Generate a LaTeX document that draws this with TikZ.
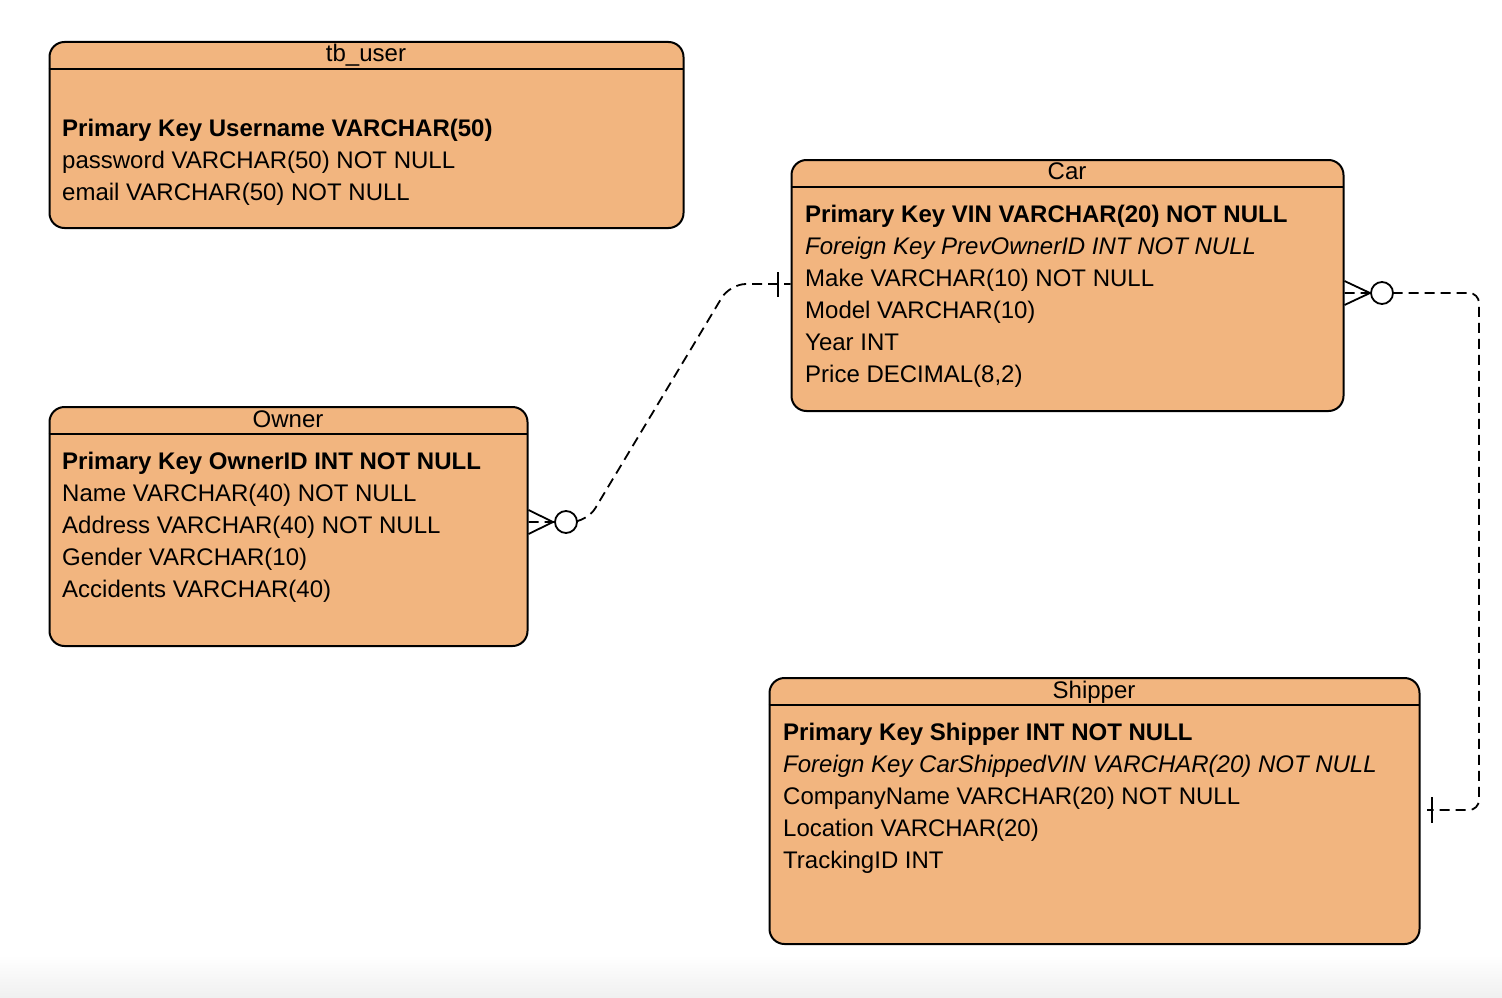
\documentclass[tikz,border=0pt]{standalone}
\usepackage{fontspec}
\setmainfont{Liberation Sans}
\definecolor{boxfill}{HTML}{F2B57F}
\begin{document}
\begin{tikzpicture}[x=1pt,y=-1pt,
  tbl/.style={draw=black, line width=2pt, fill=boxfill, rounded corners=15pt, inner sep=0pt, anchor=north west},
  hdr/.style={line width=1.5pt},
  fld/.style={anchor=base west, inner sep=0pt, font=\fontsize{24}{28}\selectfont},
  ttl/.style={anchor=base, inner sep=0pt, font=\fontsize{24}{28}\selectfont},
  rel/.style={dash pattern=on 10pt off 6pt, line width=1.8pt},
  crow/.style={line width=1.8pt},
  opt/.style={circle, draw=black, fill=white, line width=1.8pt, minimum size=22pt, inner sep=0pt}]
\useasboundingbox (0,0) rectangle (1502,998);
\fill[white] (0,0) rectangle (1502,998);
\shade[top color=white, bottom color=black!6] (0,955) rectangle (1502,998);

% tb_user
\node[tbl, minimum width=634pt, minimum height=186pt] (user) at (48.5,41) {};
\draw[hdr] (48.5,69) -- (682.5,69);
\node[ttl] (usert) at (366,62) {tb\_user};
\node[fld] (user1) at (62,136.5) {\bfseries Primary Key Username VARCHAR(50)};
\node[fld] (user2) at (62,168.5) {password VARCHAR(50) NOT NULL};
\node[fld] (user3) at (62,200.5) {email VARCHAR(50) NOT NULL};

% Car
\node[tbl, minimum width=552pt, minimum height=251pt] (car) at (790.5,159) {};
\draw[hdr] (790.5,187) -- (1342.5,187);
\node[ttl] (cart) at (1067,179.5) {Car};
\node[fld] (car1) at (805,222.5) {\bfseries Primary Key VIN VARCHAR(20) NOT NULL};
\node[fld] (car2) at (805,254.5) {\itshape Foreign Key PrevOwnerID INT NOT NULL};
\node[fld] (car3) at (805,286.5) {Make VARCHAR(10) NOT NULL};
\node[fld] (car4) at (805,318.5) {Model VARCHAR(10)};
\node[fld] (car5) at (805,350.5) {Year INT};
\node[fld] (car6) at (805,382.5) {Price DECIMAL(8,2)};

% Owner
\node[tbl, minimum width=478pt, minimum height=239pt] (owner) at (48.5,406) {};
\draw[hdr] (48.5,434) -- (526.5,434);
\node[ttl] (ownert) at (288,427) {Owner};
\node[fld] (owner1) at (62,469.5) {\bfseries Primary Key OwnerID INT NOT NULL};
\node[fld] (owner2) at (62,501.5) {Name VARCHAR(40) NOT NULL};
\node[fld] (owner3) at (62,533.5) {Address VARCHAR(40) NOT NULL};
\node[fld] (owner4) at (62,565.5) {Gender VARCHAR(10)};
\node[fld] (owner5) at (62,597.5) {Accidents VARCHAR(40)};

% Shipper
\node[tbl, minimum width=650pt, minimum height=266pt] (ship) at (768.5,677) {};
\draw[hdr] (768.5,705) -- (1418.5,705);
\node[ttl] (shipt) at (1094,698) {Shipper};
\node[fld] (ship1) at (783,740.5) {\bfseries Primary Key Shipper INT NOT NULL};
\node[fld] (ship2) at (783,772.5) {\itshape Foreign Key CarShippedVIN VARCHAR(20) NOT NULL};
\node[fld] (ship3) at (783,804.5) {CompanyName VARCHAR(20) NOT NULL};
\node[fld] (ship4) at (783,836.5) {Location VARCHAR(20)};
\node[fld] (ship5) at (783,868.5) {TrackingID INT};

% Owner -- Car
\coordinate (oA) at (owner.east |- 0,522);
\coordinate (cA) at (car.west |- 0,284);
\draw[rel, rounded corners=16pt] (oA) -- (587,522) -- (730,284) -- (cA);
\draw[crow] (owner.east |- 0,510) -- (553,522) -- (owner.east |- 0,534);
\node[opt] (oc) at (566,522) {};
\draw[crow] (778,272) -- (778,297);

% Car -- Shipper
\coordinate (cB) at (car.east |- 0,293);
\coordinate (sB) at (1427,810);
\draw[rel, rounded corners=10pt] (cB) -- (1479,293) -- (1479,810) -- (sB);
\draw[crow] (car.east |- 0,281) -- (1370,293) -- (car.east |- 0,305);
\node[opt] (cc) at (1382,293) {};
\draw[crow] (1432,797) -- (1432,823);
\end{tikzpicture}
\end{document}
